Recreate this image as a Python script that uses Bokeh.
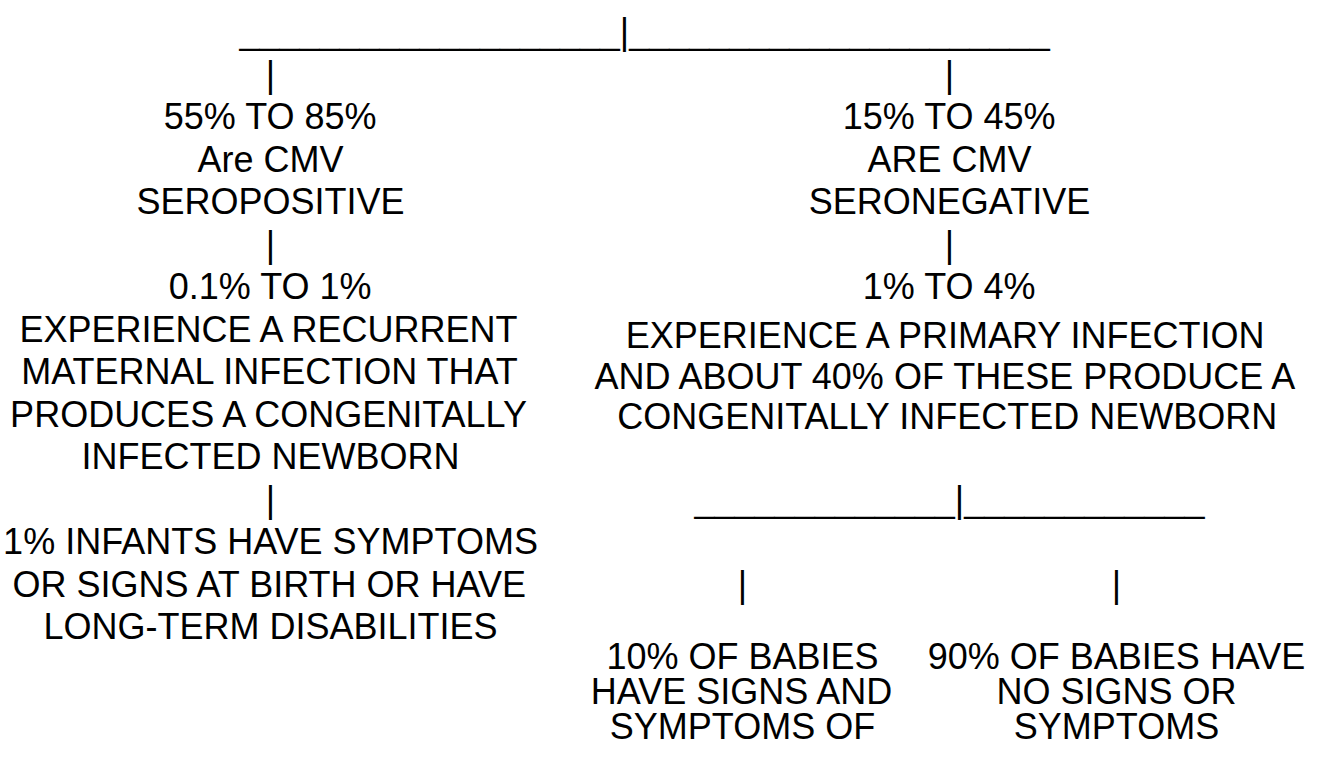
from bokeh.plotting import figure
from bokeh.models import ColumnDataSource, Range1d
from bokeh.core.properties import value
from bokeh.embed import file_html
from bokeh.resources import INLINE

# ---------------- content (texts of the flow diagram) ----------------
left_top = ["55% TO 85%", "Are CMV", "SEROPOSITIVE"]
left_mid = ["0.1% TO 1%", "EXPERIENCE A RECURRENT", "MATERNAL INFECTION THAT",
            "PRODUCES A CONGENITALLY", "INFECTED NEWBORN"]
left_low = ["1% INFANTS HAVE SYMPTOMS", "OR SIGNS AT BIRTH OR HAVE",
            "LONG-TERM DISABILITIES"]
right_top = ["15% TO 45%", "ARE CMV", "SERONEGATIVE"]
right_rate = ["1% TO 4%"]
right_mid = ["EXPERIENCE A PRIMARY INFECTION", "AND ABOUT 40% OF THESE PRODUCE A",
             "CONGENITALLY INFECTED NEWBORN"]
sub_left = ["10% OF BABIES", "HAVE SIGNS AND", "SYMPTOMS OF"]
sub_right = ["90% OF BABIES HAVE", "NO SIGNS OR", "SYMPTOMS"]

# connector pieces (underscore runs and pipes, as in the original)
top_under_left, top_under_right = 19, 21
sub_under_left, sub_under_right = 13, 12

# ---------------- layout (pixel coordinates of the page) ----------------
W, H = 1315, 745
B0, S = 39.0, 42.5          # baseline of row 0, row pitch
FS = 36                      # font size (px)
HALF_PIPE = 4.7
XL, XR = 278, 957            # column centres
XRM = 955                    # centre of the right middle paragraph
XTOP_PIPE = 632
XSUB_PIPE = 967
XSL, XSR = 750, 1124         # sub-columns
RM_Y0, RM_PITCH = 343.0, 40.5    # right middle paragraph
SUB_Y0, SUB_PITCH = 664.0, 35.0  # bottom paragraphs

def row_y(r):
    return B0 + r * S

items = []  # x, y, text, align

def block(lines, x, y0, pitch):
    for i, t in enumerate(lines):
        items.append((x, y0 + i * pitch, t, "center"))

def pipe(x, row):
    items.append((x, row_y(row), "|", "center"))

def splitter(xp, row, n_left, n_right):
    y = row_y(row)
    items.append((xp - HALF_PIPE, y, "_" * n_left, "right"))
    items.append((xp, y, "|", "center"))
    items.append((xp + HALF_PIPE, y, "_" * n_right, "left"))

# top splitter
splitter(XTOP_PIPE, 0, top_under_left, top_under_right)
# left column
pipe(XL, 1)
block(left_top, XL, row_y(2), S)
pipe(XL, 5)
block(left_mid, XL, row_y(6), S)
pipe(XL, 11)
block(left_low, XL, row_y(12), S)
# right column
pipe(XR, 1)
block(right_top, XR, row_y(2), S)
pipe(XR, 5)
block(right_rate, XR, row_y(6), S)
block(right_mid, XRM, RM_Y0, RM_PITCH)
# sub splitter
splitter(XSUB_PIPE, 11, sub_under_left, sub_under_right)
pipe(XSL, 13)
pipe(XSR, 13)
block(sub_left, XSL, SUB_Y0, SUB_PITCH)
block(sub_right, XSR, SUB_Y0, SUB_PITCH)

src = ColumnDataSource(dict(
    x=[it[0] for it in items],
    y=[it[1] for it in items],
    text=[it[2] for it in items],
    align=[it[3] for it in items],
))

p = figure(width=W, height=H, output_backend="svg", toolbar_location=None,
           x_range=Range1d(8, 8 + W), y_range=Range1d(8 + H, 8),
           x_axis_location=None, y_axis_location=None,
           min_border=0, background_fill_color="white", border_fill_color="white")
p.grid.visible = False
p.outline_line_color = None

p.text(x="x", y="y", text="text", source=src, text_align="align",
       text_baseline="alphabetic", text_font_size="%dpx" % FS,
       text_font=value("Liberation Sans"), text_color="black")

open("out.html", "w").write(file_html(p, INLINE))
